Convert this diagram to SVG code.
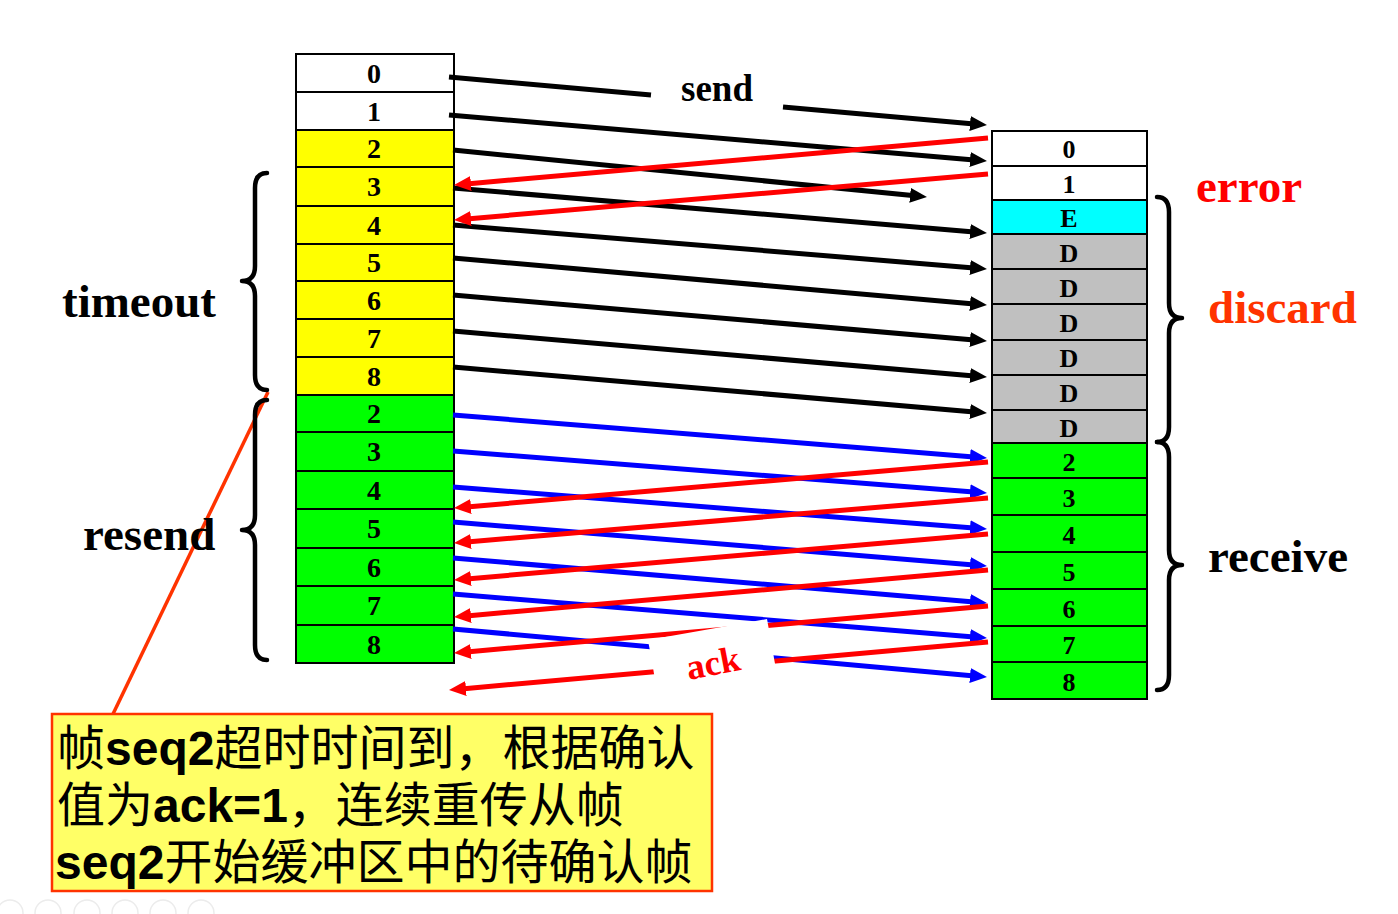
<svg xmlns="http://www.w3.org/2000/svg" width="1398" height="914" viewBox="0 0 1398 914">
<style>
.cell{stroke:#000;stroke-width:2}
.w{fill:#fff}.y{fill:#ffff00}.g{fill:#00ff00}.c{fill:#00ffff}.d{fill:#c0c0c0}
.num{font-family:"Liberation Serif",serif;font-weight:bold;font-size:28px;text-anchor:middle;fill:#000}
.rnum{font-family:"Liberation Serif",serif;font-weight:bold;font-size:26px;text-anchor:middle;fill:#000}
.lbl{font-family:"Liberation Serif",serif;font-weight:bold;font-size:47px}
.blk{stroke:#000;stroke-width:5;fill:none}
.red{stroke:#ff0000;stroke-width:5;fill:none}
.blu{stroke:#0000ff;stroke-width:5;fill:none}
.brace{stroke:#000;stroke-width:4.5;fill:none;stroke-linecap:round;stroke-linejoin:round}
.cn{font-family:"Noto Sans CJK SC",sans-serif;font-size:48px;fill:#000}
.lat{font-family:"Liberation Sans",Arial,sans-serif;font-weight:bold}
</style>
<defs>
<marker id="ab" markerUnits="userSpaceOnUse" markerWidth="18" markerHeight="16" refX="10" refY="7.5" orient="auto"><path d="M0,0 L17,7.5 L0,15 z" fill="#000"/></marker>
<marker id="ar" markerUnits="userSpaceOnUse" markerWidth="18" markerHeight="16" refX="10" refY="7.5" orient="auto"><path d="M0,0 L17,7.5 L0,15 z" fill="#ff0000"/></marker>
<marker id="au" markerUnits="userSpaceOnUse" markerWidth="18" markerHeight="16" refX="10" refY="7.5" orient="auto"><path d="M0,0 L17,7.5 L0,15 z" fill="#0000ff"/></marker>
</defs>
<rect width="1398" height="914" fill="#fff"/>

<g id="sender">
<rect class="cell w" x="296" y="54" width="158" height="38"/><text class="num" x="374" y="83">0</text>
<rect class="cell w" x="296" y="92" width="158" height="38"/><text class="num" x="374" y="121">1</text>
<rect class="cell y" x="296" y="130" width="158" height="37"/><text class="num" x="374" y="158">2</text>
<rect class="cell y" x="296" y="167" width="158" height="39"/><text class="num" x="374" y="196">3</text>
<rect class="cell y" x="296" y="206" width="158" height="38"/><text class="num" x="374" y="235">4</text>
<rect class="cell y" x="296" y="244" width="158" height="37"/><text class="num" x="374" y="272">5</text>
<rect class="cell y" x="296" y="281" width="158" height="38"/><text class="num" x="374" y="310">6</text>
<rect class="cell y" x="296" y="319" width="158" height="38"/><text class="num" x="374" y="348">7</text>
<rect class="cell y" x="296" y="357" width="158" height="38"/><text class="num" x="374" y="386">8</text>
<rect class="cell g" x="296" y="395" width="158" height="37"/><text class="num" x="374" y="423">2</text>
<rect class="cell g" x="296" y="432" width="158" height="39"/><text class="num" x="374" y="461">3</text>
<rect class="cell g" x="296" y="471" width="158" height="38"/><text class="num" x="374" y="500">4</text>
<rect class="cell g" x="296" y="509" width="158" height="39"/><text class="num" x="374" y="538">5</text>
<rect class="cell g" x="296" y="548" width="158" height="38"/><text class="num" x="374" y="577">6</text>
<rect class="cell g" x="296" y="586" width="158" height="39"/><text class="num" x="374" y="615">7</text>
<rect class="cell g" x="296" y="625" width="158" height="38"/><text class="num" x="374" y="654">8</text>
</g>

<g id="receiver">
<rect class="cell w" x="992" y="131" width="155" height="35"/><text class="rnum" x="1069" y="158">0</text>
<rect class="cell w" x="992" y="166" width="155" height="34"/><text class="rnum" x="1069" y="193">1</text>
<rect class="cell c" x="992" y="200" width="155" height="34"/><text class="rnum" x="1069" y="227">E</text>
<rect class="cell d" x="992" y="234" width="155" height="35"/><text class="rnum" x="1069" y="262">D</text>
<rect class="cell d" x="992" y="269" width="155" height="35"/><text class="rnum" x="1069" y="297">D</text>
<rect class="cell d" x="992" y="304" width="155" height="36"/><text class="rnum" x="1069" y="332">D</text>
<rect class="cell d" x="992" y="340" width="155" height="35"/><text class="rnum" x="1069" y="367">D</text>
<rect class="cell d" x="992" y="375" width="155" height="35"/><text class="rnum" x="1069" y="402">D</text>
<rect class="cell d" x="992" y="410" width="155" height="33"/><text class="rnum" x="1069" y="437">D</text>
<rect class="cell g" x="992" y="443" width="155" height="35"/><text class="rnum" x="1069" y="471">2</text>
<rect class="cell g" x="992" y="478" width="155" height="37"/><text class="rnum" x="1069" y="507">3</text>
<rect class="cell g" x="992" y="515" width="155" height="37"/><text class="rnum" x="1069" y="544">4</text>
<rect class="cell g" x="992" y="552" width="155" height="37"/><text class="rnum" x="1069" y="581">5</text>
<rect class="cell g" x="992" y="589" width="155" height="37"/><text class="rnum" x="1069" y="618">6</text>
<rect class="cell g" x="992" y="626" width="155" height="36"/><text class="rnum" x="1069" y="654">7</text>
<rect class="cell g" x="992" y="662" width="155" height="37"/><text class="rnum" x="1069" y="691">8</text>
</g>

<g id="connectors">
<line class="blk" x1="449" y1="77" x2="651" y2="95"/>
<line class="blk" x1="783" y1="107" x2="980" y2="124.4" marker-end="url(#ab)"/>
<line class="blk" x1="449" y1="115" x2="980" y2="160.4" marker-end="url(#ab)"/>
<line class="blk" x1="453" y1="150" x2="920" y2="196.3" marker-end="url(#ab)"/>
<line class="blk" x1="453" y1="188" x2="980" y2="232.4" marker-end="url(#ab)"/>
<line class="blk" x1="453" y1="225" x2="980" y2="268.4" marker-end="url(#ab)"/>
<line class="blk" x1="453" y1="258" x2="980" y2="304.4" marker-end="url(#ab)"/>
<line class="blk" x1="453" y1="295" x2="980" y2="340.4" marker-end="url(#ab)"/>
<line class="blk" x1="453" y1="331" x2="980" y2="376.4" marker-end="url(#ab)"/>
<line class="blk" x1="453" y1="367" x2="980" y2="412.4" marker-end="url(#ab)"/>

<line class="red" x1="988" y1="138" x2="461" y2="184.4" marker-end="url(#ar)"/>
<line class="red" x1="988" y1="174" x2="461" y2="219.4" marker-end="url(#ar)"/>

<line class="blu" x1="453" y1="415" x2="980" y2="457.4" marker-end="url(#au)"/>
<line class="blu" x1="453" y1="451" x2="980" y2="492.4" marker-end="url(#au)"/>
<line class="blu" x1="453" y1="487" x2="980" y2="528.4" marker-end="url(#au)"/>
<line class="blu" x1="453" y1="522" x2="980" y2="565.4" marker-end="url(#au)"/>
<line class="blu" x1="453" y1="558" x2="980" y2="602.4" marker-end="url(#au)"/>
<line class="blu" x1="453" y1="594" x2="980" y2="637.4" marker-end="url(#au)"/>
<line class="blu" x1="453" y1="629" x2="980" y2="676.4" marker-end="url(#au)"/>

<line class="red" x1="988" y1="462" x2="461" y2="507.4" marker-end="url(#ar)"/>
<line class="red" x1="988" y1="498" x2="461" y2="542.4" marker-end="url(#ar)"/>
<line class="red" x1="988" y1="534" x2="461" y2="579.4" marker-end="url(#ar)"/>
<line class="red" x1="988" y1="570" x2="461" y2="616.4" marker-end="url(#ar)"/>
<line class="red" x1="988" y1="606" x2="461" y2="652.4" marker-end="url(#ar)"/>
<line class="red" x1="988" y1="642" x2="456" y2="689.4" marker-end="url(#ar)"/>

<polygon points="648,640 767,619 777,675 658,696" fill="#fff"/>
<line x1="268" y1="392" x2="113" y2="714" stroke="#ff3300" stroke-width="3.5"/>
</g>

<g id="send-label"><text class="lbl" x="717" y="101" style="font-size:37px" text-anchor="middle">send</text></g>
<g id="ack-label"><text x="713" y="675" text-anchor="middle" transform="rotate(-11 713 663)" font-family="Liberation Serif, serif" font-weight="bold" font-size="36" fill="#ff0000">ack</text></g>

<g id="timeout">
<path class="brace" d="M267,173 Q255,173 255,188 L255,266 Q255,281 242,281 Q255,281 255,296 L255,375 Q255,390 267,390"/>
<text class="lbl" x="62" y="317">timeout</text>
</g>
<g id="resend">
<path class="brace" d="M267,400 Q255,400 255,415 L255,515 Q255,530 242,530 Q255,530 255,545 L255,645 Q255,660 267,660"/>
<text class="lbl" x="83" y="550">resend</text>
</g>
<g id="error"><text class="lbl" x="1196" y="202" fill="#ff0000">error</text></g>
<g id="discard">
<path class="brace" d="M1157,197 Q1169,197 1169,212 L1169,303 Q1169,318 1182,318 Q1169,318 1169,333 L1169,427 Q1169,442 1157,442"/>
<text class="lbl" x="1208" y="323" fill="#ff3300">discard</text>
</g>
<g id="receive">
<path class="brace" d="M1157,442 Q1169,442 1169,457 L1169,550 Q1169,565 1182,565 Q1169,565 1169,580 L1169,675 Q1169,690 1157,690"/>
<text class="lbl" x="1208" y="572">receive</text>
</g>

<g id="callout">
<rect x="52" y="714" width="660" height="177" fill="#ffff66" stroke="#ff3300" stroke-width="2.5"/>
<text class="cn" x="57" y="765">帧<tspan class="lat">seq2</tspan>超时时间到，根据确认</text>
<text class="cn" x="57" y="822">值为<tspan class="lat">ack=1</tspan>，连续重传从帧</text>
<text class="cn" x="55" y="879"><tspan class="lat">seq2</tspan>开始缓冲区中的待确认帧</text>
</g>

<g id="toolbar" fill="none" stroke="#ececec" stroke-width="1.5">
<circle cx="10" cy="913" r="13"/>
<circle cx="48" cy="913" r="13"/>
<circle cx="87" cy="913" r="13"/>
<circle cx="125" cy="913" r="13"/>
<circle cx="163" cy="913" r="13"/>
<circle cx="201" cy="913" r="13"/>
</g>
</svg>
